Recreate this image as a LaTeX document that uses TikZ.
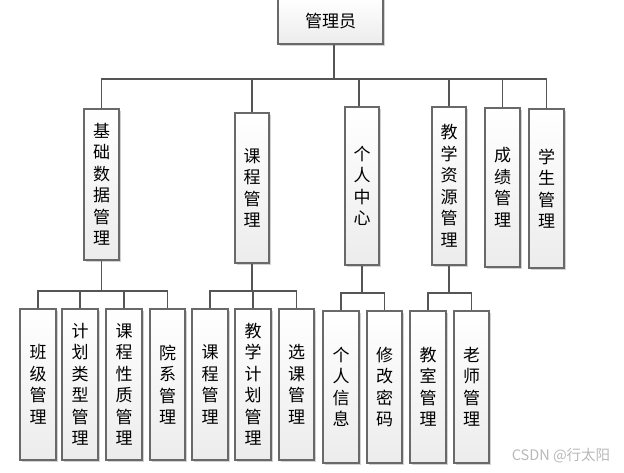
\documentclass[tikz,border=0pt]{standalone}
\usepackage{fontspec}
\setmainfont{Noto Sans CJK SC}
\usetikzlibrary{shadows}
\definecolor{linegray}{RGB}{85,85,85}
\definecolor{boxborder}{RGB}{105,105,105}
\definecolor{boxbottom}{RGB}{236,236,236}
\tikzset{
  box/.style={draw=boxborder, line width=1.2pt, top color=white, bottom color=boxbottom,
    inner sep=0pt, align=center, font=\fontsize{17}{21.5}\selectfont,
    drop shadow={shadow xshift=1.6pt, shadow yshift=-1.6pt, opacity=0.35}},
  conn/.style={draw=linegray, line width=1.2pt}
}
\begin{document}
\begin{tikzpicture}[x=1pt,y=-1pt]
\useasboundingbox (0,0) rectangle (624,473);
\fill[white] (0,0) rectangle (624,473);
% root
\node[box, minimum width=105, minimum height=46] (root) at (330.5,21) {管理员};
% level 2
\node[box, minimum width=35, minimum height=151] (n1) at (101.5,184.5) {基\\础\\数\\据\\管\\理};
\node[box, minimum width=34, minimum height=150] (n2) at (252,188) {课\\程\\管\\理};
\node[box, minimum width=34, minimum height=158] (n3) at (362,186) {个\\人\\中\\心};
\node[box, minimum width=34, minimum height=158] (n4) at (449,186) {教\\学\\资\\源\\管\\理};
\node[box, minimum width=35, minimum height=159] (n5) at (502.5,187.5) {成\\绩\\管\\理};
\node[box, minimum width=35, minimum height=159] (n6) at (546.5,188.5) {学\\生\\管\\理};
% level 3
\node[box, minimum width=36, minimum height=151] (c1) at (38,384.5) {班\\级\\管\\理};
\node[box, minimum width=36, minimum height=151] (c2) at (80,384.5) {计\\划\\类\\型\\管\\理};
\node[box, minimum width=36, minimum height=151] (c3) at (124,384.5) {课\\程\\性\\质\\管\\理};
\node[box, minimum width=35, minimum height=151] (c4) at (167.5,384.5) {院\\系\\管\\理};
\node[box, minimum width=36, minimum height=151] (c5) at (210,384.5) {课\\程\\管\\理};
\node[box, minimum width=36, minimum height=151] (c6) at (253,384.5) {教\\学\\计\\划\\管\\理};
\node[box, minimum width=35, minimum height=151] (c7) at (296.5,384.5) {选\\课\\管\\理};
\node[box, minimum width=36, minimum height=152] (c8) at (341,387) {个\\人\\信\\息};
\node[box, minimum width=35, minimum height=152] (c9) at (384.5,387) {修\\改\\密\\码};
\node[box, minimum width=36, minimum height=152] (c10) at (428,387) {教\\室\\管\\理};
\node[box, minimum width=35, minimum height=152] (c11) at (471.5,387) {老\\师\\管\\理};
% bus coordinates
\coordinate (b1) at (0,79);
\coordinate (b2) at (0,291);
\coordinate (b3) at (0,293);
% root connectors
\draw[conn] ([xshift=3.5pt]root.south) -- ([xshift=3.5pt]root.south |- b1);
\draw[conn] (n1.north) -- (n1.north |- b1) -- (n6.north |- b1) -- (n6.north);
\draw[conn] (n2.north) -- (n2.north |- b1);
\draw[conn] ([xshift=-3pt]n3.north) -- ([xshift=-3pt]n3.north |- b1);
\draw[conn] (n4.north) -- (n4.north |- b1);
\draw[conn] (n5.north) -- (n5.north |- b1);
% group 1
\draw[conn] (n1.south) -- (n1.south |- b2);
\draw[conn] (c1.north) -- (c1.north |- b2) -- (c4.north |- b2) -- (c4.north);
\draw[conn] (c2.north) -- (c2.north |- b2);
\draw[conn] (c3.north) -- (c3.north |- b2);
% group 2
\draw[conn] (n2.south) -- (n2.south |- b2);
\draw[conn] (c5.north) -- (c5.north |- b2) -- (c7.north |- b2) -- (c7.north);
\draw[conn] (c6.north) -- (c6.north |- b2);
% group 3
\draw[conn] (n3.south) -- (n3.south |- b3);
\draw[conn] (c8.north) -- (c8.north |- b3) -- (c9.north |- b3) -- (c9.north);
% group 4
\draw[conn] (n4.south) -- (n4.south |- b3);
\draw[conn] (c10.north) -- (c10.north |- b3) -- (c11.north |- b3) -- (c11.north);
% watermark
\node[text=gray!55, font=\fontsize{14.5}{14.5}\selectfont, inner sep=0pt] (wm) at (561,456) {CSDN @行太阳};
\end{tikzpicture}
\end{document}
